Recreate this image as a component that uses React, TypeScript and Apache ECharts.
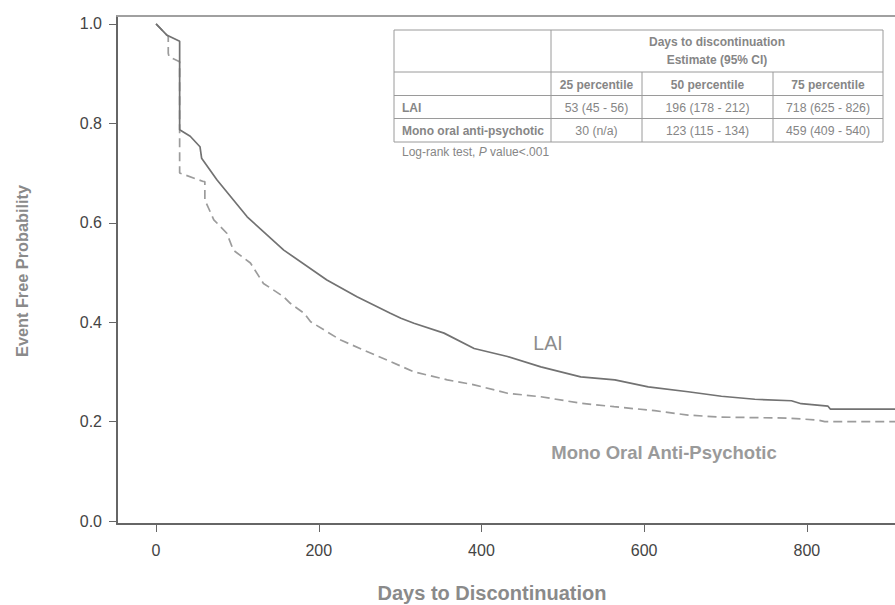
import React, { useEffect, useRef } from "react";
import * as echarts from "echarts";

// ---- Data ----
const laiDays = [0, 13, 29, 29, 42, 54, 56, 75, 112, 157, 210, 247, 288, 301, 317, 354, 391, 432, 473, 522, 564, 605, 654, 695, 736, 781, 793, 826, 829, 928];
const laiSurv = [1.0, 0.978, 0.965, 0.787, 0.774, 0.753, 0.73, 0.686, 0.612, 0.545, 0.485, 0.451, 0.418, 0.408, 0.398, 0.378, 0.347, 0.331, 0.31, 0.29, 0.284, 0.27, 0.26, 0.251, 0.245, 0.242, 0.236, 0.231, 0.225, 0.225];

const oralDays = [0, 13, 15, 15, 16, 29, 29, 36, 58, 60, 60, 71, 87, 95, 116, 132, 157, 165, 182, 190, 227, 255, 288, 317, 358, 391, 432, 473, 522, 563, 613, 654, 695, 777, 814, 822, 928];
const oralSurv = [1.0, 0.978, 0.975, 0.941, 0.934, 0.924, 0.7, 0.696, 0.683, 0.683, 0.646, 0.606, 0.579, 0.545, 0.519, 0.478, 0.451, 0.438, 0.418, 0.401, 0.364, 0.344, 0.321, 0.3, 0.284, 0.274, 0.257, 0.25, 0.237, 0.23, 0.222, 0.213, 0.209, 0.207, 0.203, 0.2, 0.2];

const xTicks = [0, 200, 400, 600, 800];
const yTicks = [0, 0.2, 0.4, 0.6, 0.8, 1.0];

const tableHeader1 = "Days to discontinuation";
const tableHeader2 = "Estimate (95% CI)";
const percentileHeaders = ["25 percentile", "50 percentile", "75 percentile"];
const rowLabels = ["LAI", "Mono oral anti-psychotic"];
const laiEstimates = ["53 (45 - 56)", "196 (178 - 212)", "718 (625 - 826)"];
const oralEstimates = ["30 (n/a)", "123 (115 - 134)", "459 (409 - 540)"];

const FONT = "'Liberation Sans', Arial, sans-serif";

export default function App() {
  const ref = useRef<HTMLDivElement>(null);

  useEffect(() => {
    if (!ref.current) return;
    const chart = echarts.init(ref.current, undefined, { renderer: "svg" });

    const laiData = laiDays.map((d, i) => [d, laiSurv[i]]);
    const oralData = oralDays.map((d, i) => [d, oralSurv[i]]);

    // table geometry
    const tL = 394, tR = 883, tT = 30, tB = 142;
    const rows = [72, 95.5, 118.5];
    const cols = [551, 642, 773];
    const colCenters = [(cols[0] + cols[1]) / 2, (cols[1] + cols[2]) / 2, (cols[2] + tR) / 2];
    const lineStyle = { stroke: "#9a9a9a", lineWidth: 1 };
    const textFill = "#868686";
    const boldFont = `bold 12px ${FONT}`;
    const valFont = `12.3px ${FONT}`;

    const tableEls: any[] = [
      { type: "rect", shape: { x: tL, y: tT, width: tR - tL, height: tB - tT }, style: { fill: "#fff", stroke: "#9a9a9a", lineWidth: 1 }, z: 10 },
      ...rows.map((y) => ({ type: "line", shape: { x1: tL, y1: y, x2: tR, y2: y }, style: lineStyle, z: 11 })),
      { type: "line", shape: { x1: cols[0], y1: tT, x2: cols[0], y2: tB }, style: lineStyle, z: 11 },
      { type: "line", shape: { x1: cols[1], y1: rows[0], x2: cols[1], y2: tB }, style: lineStyle, z: 11 },
      { type: "line", shape: { x1: cols[2], y1: rows[0], x2: cols[2], y2: tB }, style: lineStyle, z: 11 },
      { type: "text", x: (cols[0] + tR) / 2, y: 42, style: { text: tableHeader1, fill: textFill, font: boldFont, align: "center", verticalAlign: "middle" }, z: 12 },
      { type: "text", x: (cols[0] + tR) / 2, y: 60, style: { text: tableHeader2, fill: textFill, font: boldFont, align: "center", verticalAlign: "middle" }, z: 12 },
      ...percentileHeaders.map((t, i) => ({ type: "text", x: colCenters[i], y: 84.5, style: { text: t, fill: textFill, font: boldFont, align: "center", verticalAlign: "middle" }, z: 12 })),
      { type: "text", x: 402, y: 107.5, style: { text: rowLabels[0], fill: textFill, font: boldFont, align: "left", verticalAlign: "middle" }, z: 12 },
      { type: "text", x: 402, y: 131, style: { text: rowLabels[1], fill: textFill, font: boldFont, align: "left", verticalAlign: "middle" }, z: 12 },
      ...laiEstimates.map((t, i) => ({ type: "text", x: colCenters[i], y: 107.5, style: { text: t, fill: textFill, font: valFont, align: "center", verticalAlign: "middle" }, z: 12 })),
      ...oralEstimates.map((t, i) => ({ type: "text", x: colCenters[i], y: 131, style: { text: t, fill: textFill, font: valFont, align: "center", verticalAlign: "middle" }, z: 12 })),
      {
        type: "text", x: 402, y: 152,
        style: {
          text: "Log-rank test, {i|P} value<.001",
          fill: textFill, font: `12px ${FONT}`, align: "left", verticalAlign: "middle",
          rich: { i: { fontStyle: "italic", fontSize: 12, fill: textFill, fontFamily: FONT } },
        },
        z: 12,
      },
    ];

    const option: any = {
      animation: false,
      backgroundColor: "#fff",
      grid: { left: 117, top: 16, right: 0, bottom: 81, containLabel: false },
      xAxis: [
        {
          type: "value", min: -48, max: 928, position: "bottom",
          axisLine: { show: true, onZero: false, lineStyle: { color: "#666", width: 2 } },
          axisTick: { show: true, length: 8, lineStyle: { color: "#666", width: 1 }, customValues: xTicks },
          axisLabel: { customValues: xTicks, color: "#444", fontSize: 16, fontFamily: FONT, margin: 18 },
          splitLine: { show: false },
        },
        {
          type: "value", min: -48, max: 928, position: "top",
          axisLine: { show: true, onZero: false, lineStyle: { color: "#a0a0a0", width: 2 } },
          axisTick: { show: false }, axisLabel: { show: false }, splitLine: { show: false },
        },
      ],
      yAxis: {
        type: "value", min: -0.006, max: 1.016,
        axisLine: { show: true, onZero: false, lineStyle: { color: "#666", width: 2 } },
        axisTick: { show: true, length: 8, lineStyle: { color: "#666", width: 1 }, customValues: yTicks },
        axisLabel: { customValues: yTicks, color: "#444", fontSize: 16, fontFamily: FONT, margin: 15, formatter: (v: number) => v.toFixed(1) },
        splitLine: { show: false },
      },
      series: [
        {
          name: "LAI", type: "line", data: laiData, showSymbol: false, symbol: "none",
          lineStyle: { color: "#727272", width: 1.7, type: "solid" }, clip: true, z: 3,
        },
        {
          name: "Mono Oral Anti-Psychotic", type: "line", data: oralData, showSymbol: false, symbol: "none",
          lineStyle: { color: "#9c9c9c", width: 1.7, type: [9, 5] }, clip: true, z: 2,
        },
      ],
      graphic: [
        { type: "text", x: 22, y: 271, rotation: Math.PI / 2, style: { text: "Event Free Probability", fill: "#8a8a8a", font: `bold 16.3px ${FONT}`, align: "center", verticalAlign: "middle" } },
        { type: "text", x: 492, y: 593, style: { text: "Days to Discontinuation", fill: "#8a8a8a", font: `bold 20px ${FONT}`, align: "center", verticalAlign: "middle" } },
        { type: "text", x: 548, y: 343, style: { text: "LAI", fill: "#8c8c8c", font: `19.5px ${FONT}`, align: "center", verticalAlign: "middle" } },
        { type: "text", x: 664, y: 452, style: { text: "Mono Oral Anti-Psychotic", fill: "#9a9a9a", font: `bold 18.5px ${FONT}`, align: "center", verticalAlign: "middle" } },
        ...tableEls,
      ],
    };

    chart.setOption(option);
    return () => chart.dispose();
  }, []);

  return (
    <div style={{ position: "fixed", left: 0, top: 0, width: 895, height: 605, overflow: "hidden", background: "#fff" }}>
      <div ref={ref} style={{ width: 911, height: 605 }} />
    </div>
  );
}
